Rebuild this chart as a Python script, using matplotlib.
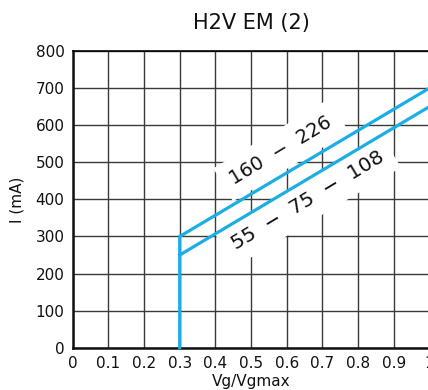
import matplotlib
matplotlib.use("Agg")
import matplotlib.pyplot as plt

# Data
upper_x = [0.3, 0.3, 1.0, 1.0]
upper_y = [0, 300, 700, 800]
lower_x = [0.3, 1.0]
lower_y = [250, 650]
upper_label = "160  \u2212  226"
lower_label = "55  \u2212  75  \u2212  108"
x_ticks = [0, 0.1, 0.2, 0.3, 0.4, 0.5, 0.6, 0.7, 0.8, 0.9, 1.0]
x_tick_labels = ["0", "0.1", "0.2", "0.3", "0.4", "0.5", "0.6", "0.7", "0.8", "0.9", "1"]
y_ticks = [0, 100, 200, 300, 400, 500, 600, 700, 800]

plt.rcParams['font.family'] = ['DejaVu Sans']
fig = plt.figure(figsize=(4.28, 3.9), dpi=100)
ax = fig.add_axes([0.170, 0.1085, 0.833, 0.7605])

blue = "#1AAEE5"
ax.set_xlim(0, 1.0)
ax.set_ylim(0, 800)
ax.set_xticks(x_ticks)
ax.set_xticklabels(x_tick_labels)
ax.set_yticks(y_ticks)
ax.tick_params(length=0, labelsize=11, pad=6, colors="#111111")
ax.grid(True, color="#3a3a3a", linewidth=1.0)
ax.set_axisbelow(True)
for s in ["left", "bottom"]:
    ax.spines[s].set_linewidth(1.8)
    ax.spines[s].set_color("#111111")
ax.spines["top"].set_linewidth(1.2)
ax.spines["right"].set_visible(False)

ax.plot(upper_x, upper_y, color=blue, linewidth=2.3, solid_joinstyle="miter", clip_on=False, zorder=4)
ax.plot(lower_x, lower_y, color=blue, linewidth=2.3, zorder=4)

ax.text(0.584, 533, upper_label, rotation=31, ha="center", va="center",
        rotation_mode="anchor", fontsize=14, color="#111111", zorder=3,
        bbox=dict(facecolor="white", edgecolor="none", pad=7))
ax.text(0.660, 396, lower_label, rotation=31, ha="center", va="center",
        rotation_mode="anchor", fontsize=14.5, color="#111111", zorder=3,
        bbox=dict(facecolor="white", edgecolor="none", pad=7))

ax.set_title("H2V EM (2)", fontsize=15, pad=16, color="#111111")
ax.set_xlabel("Vg/Vgmax", fontsize=11, labelpad=2, color="#111111")
ax.set_ylabel("I (mA)", fontsize=11, labelpad=8, color="#111111")

fig.savefig("out.png", dpi=100)
